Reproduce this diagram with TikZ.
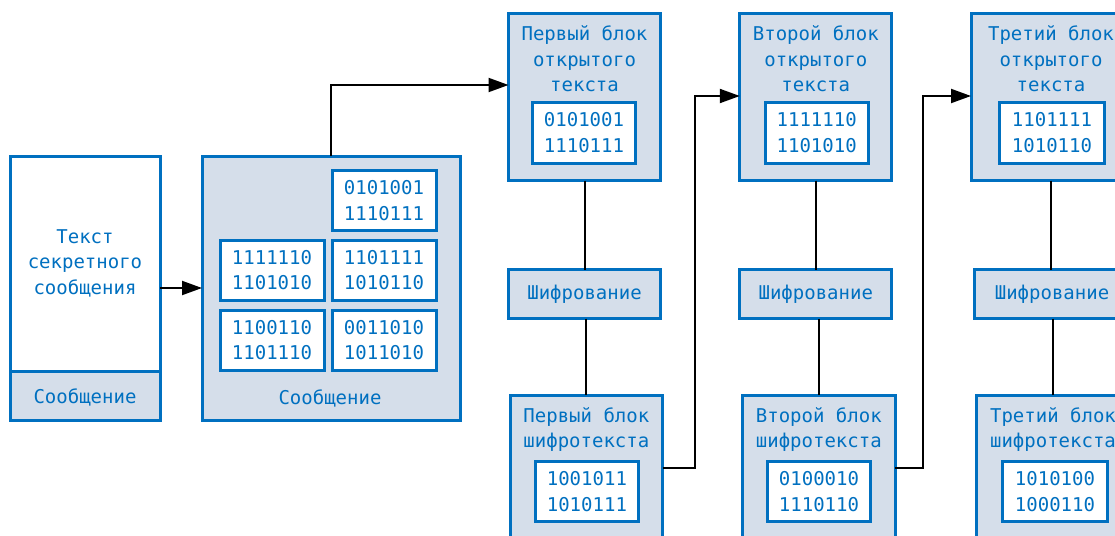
\documentclass[tikz,border=0pt]{standalone}
\usepackage{fontspec}
\setmonofont{DejaVu Sans Mono}
\usetikzlibrary{arrows.meta}
\definecolor{myblue}{RGB}{0,112,192}
\definecolor{myfill}{RGB}{213,222,234}
\begin{document}
\begin{tikzpicture}[x=1pt,y=-1pt,
  box/.style={draw=myblue, line width=3pt, fill=myfill, inner sep=0pt, outer sep=0pt},
  txt/.style={text=myblue, font=\ttfamily\fontsize{19}{25.5}\selectfont, align=center, inner sep=0pt},
  ibox/.style={box, fill=white, txt, minimum width=104pt, minimum height=60pt},
  pbox/.style={box, minimum width=152pt, minimum height=167pt},
  ebox/.style={box, txt, minimum width=152pt, minimum height=49pt},
  cbox/.style={box, minimum width=152.7pt, minimum height=146pt},
  conn/.style={draw=black, line width=2pt},
  arr/.style={conn, -{Triangle[length=20pt,width=14pt]}},
]
\useasboundingbox (0,0) rectangle (1115,535);
\clip (0,0) rectangle (1115,535);

% left message
\node[box, fill=white, minimum width=150pt, minimum height=264pt] (msg) at (85,288) {};
\node[box, minimum width=150pt, minimum height=49pt] (msgbot) at (85,395.5) {};
\node[txt] (msgtxt) at (85,263) {Текст\\секретного\\сообщения};
\node[txt] (msglbl) at (85,397.5) {Сообщение};

% split message
\node[box, minimum width=258pt, minimum height=264pt] (big) at (331,288) {};
\node[ibox] (b01) at (384,200.7) {0101001\\1110111};
\node[ibox] (b10) at (272,270) {1111110\\1101010};
\node[ibox] (b11) at (384,270) {1101111\\1010110};
\node[ibox] (b20) at (272,340) {1100110\\1101110};
\node[ibox] (b21) at (384,340) {0011010\\1011010};
\node[txt] (biglbl) at (330,398.5) {Сообщение};

% column 1
\node[pbox] (p1) at (584.5,97) {};
\node[txt] (p1t) at (584.5,59) {Первый блок\\открытого\\текста};
\node[ibox, minimum width=103pt, minimum height=61pt] (p1b) at (584,132.5) {0101001\\1110111};
\node[ebox] (e1) at (584.5,294) {Шифрование};
\node[cbox] (c1) at (586.4,468) {};
\node[txt] (c1t) at (586.4,429.5) {Первый блок\\шифротекста};
\node[ibox, minimum width=103pt] (c1b) at (586.9,491.7) {1001011\\1010111};

% column 2
\node[pbox] (p2) at (815.8,97) {};
\node[txt] (p2t) at (815.8,59) {Второй блок\\открытого\\текста};
\node[ibox, minimum width=103pt, minimum height=61pt] (p2b) at (816.7,132.5) {1111110\\1101010};
\node[ebox] (e2) at (815.8,294) {Шифрование};
\node[cbox] (c2) at (818.8,468) {};
\node[txt] (c2t) at (818.8,429.5) {Второй блок\\шифротекста};
\node[ibox, minimum width=103pt] (c2b) at (819,491.7) {0100010\\1110110};

% column 3
\node[pbox, minimum width=160pt] (p3) at (1051,97) {};
\node[txt] (p3t) at (1051,59) {Третий блок\\открытого\\текста};
\node[ibox, minimum width=105pt, minimum height=61pt] (p3b) at (1052,132.5) {1101111\\1010110};
\node[ebox, minimum width=156pt] (e3) at (1052,294) {Шифрование};
\node[cbox, minimum width=154pt] (c3) at (1053,468) {};
\node[txt] (c3t) at (1053,429.5) {Третий блок\\шифротекста};
\node[ibox, minimum width=105pt] (c3b) at (1055,491.7) {1010100\\1000110};

% connectors
\draw[arr] (msg.east) -- (big.west);
\draw[arr] (big.north) |- ([yshift=12pt]p1.west);
\draw[conn] (p1.south) -- (p1.south |- e1.north);
\draw[conn] (e1.south -| c1.north) -- (c1.north);
\draw[conn] (p2.south) -- (p2.south |- e2.north);
\draw[conn] (e2.south -| c2.north) -- (c2.north);
\draw[conn] (p3.south) -- (p3.south |- e3.north);
\draw[conn] (e3.south -| c3.north) -- (c3.north);
\draw[arr] (c1.east) -- ++(32.3,0) |- ([yshift=1pt]p2.west);
\draw[arr] (c2.east) -- ++(28.3,0) |- ([yshift=1pt]p3.west);
\end{tikzpicture}
\end{document}
